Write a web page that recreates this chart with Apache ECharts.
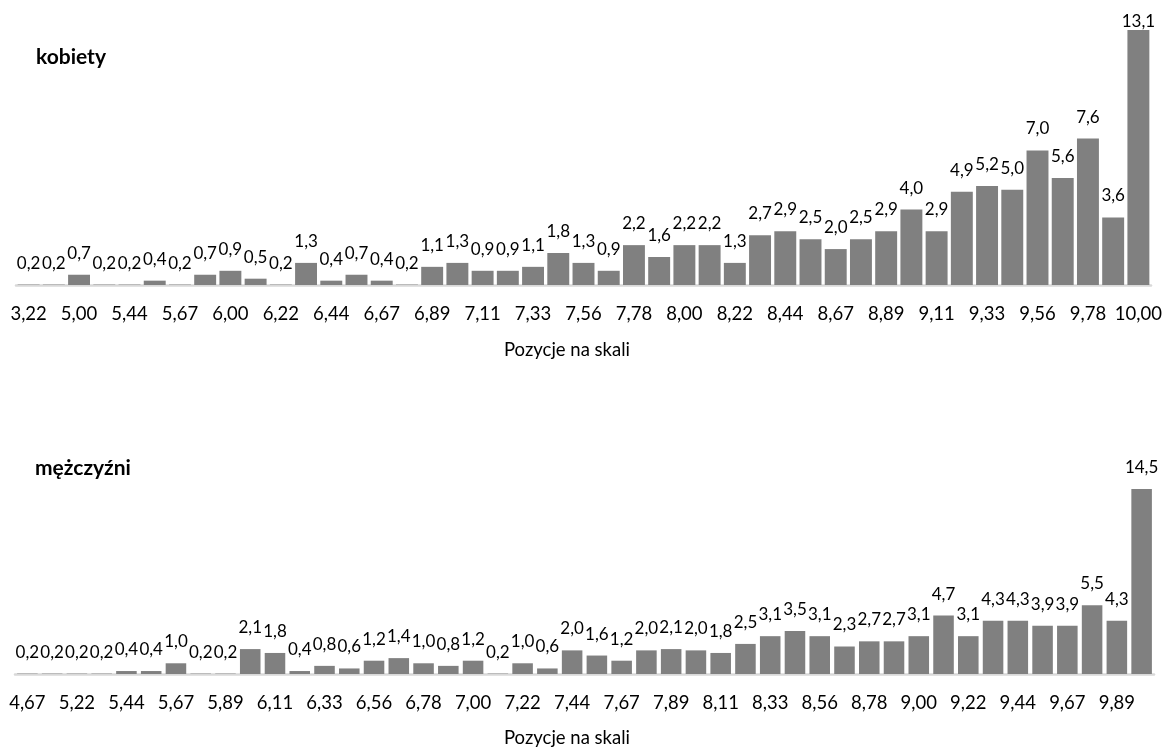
<!DOCTYPE html>
<html><head><meta charset="utf-8">
<script src="https://cdn.jsdelivr.net/npm/echarts@6/dist/echarts.min.js"></script>
<style>html,body{margin:0;padding:0;background:#fff}#c{width:1173px;height:749px}</style>
</head><body><div id="c"></div>
<script>
const womenTitle = 'kobiety';
const menTitle = 'mężczyźni';
const axisTitle = 'Pozycje na skali';
const womenCategories = [3.22,4.67,5.00,5.22,5.44,5.56,5.67,5.89,6.00,6.11,6.22,6.33,6.44,6.56,6.67,6.78,6.89,7.00,7.11,7.22,7.33,7.44,7.56,7.67,7.78,7.89,8.00,8.11,8.22,8.33,8.44,8.56,8.67,8.78,8.89,9.00,9.11,9.22,9.33,9.44,9.56,9.67,9.78,9.89,10.00];
const womenValues = [0.2,0.2,0.7,0.2,0.2,0.4,0.2,0.7,0.9,0.5,0.2,1.3,0.4,0.7,0.4,0.2,1.1,1.3,0.9,0.9,1.1,1.8,1.3,0.9,2.2,1.6,2.2,2.2,1.3,2.7,2.9,2.5,2.0,2.5,2.9,4.0,2.9,4.9,5.2,5.0,7.0,5.6,7.6,3.6,13.1];
const menCategories = [4.67,5.00,5.22,5.33,5.44,5.56,5.67,5.78,5.89,6.00,6.11,6.22,6.33,6.44,6.56,6.67,6.78,6.89,7.00,7.11,7.22,7.33,7.44,7.56,7.67,7.78,7.89,8.00,8.11,8.22,8.33,8.44,8.56,8.67,8.78,8.89,9.00,9.11,9.22,9.33,9.44,9.56,9.67,9.78,9.89,10.00];
const menValues = [0.2,0.2,0.2,0.2,0.4,0.4,1.0,0.2,0.2,2.1,1.8,0.4,0.8,0.6,1.2,1.4,1.0,0.8,1.2,0.2,1.0,0.6,2.0,1.6,1.2,2.0,2.1,2.0,1.8,2.5,3.1,3.5,3.1,2.3,2.7,2.7,3.1,4.7,3.1,4.3,4.3,3.9,3.9,5.5,4.3,14.5];

const FONT = 'Lato, "Open Sans", sans-serif';
const fmtCat = v => Number(v).toFixed(2).replace('.', ',');
const fmtVal = p => Number(p.value).toFixed(1).replace('.', ',');

function barData(vals, lastDist) {
  return vals.map((v, i) => (i === vals.length - 1 && lastDist != null)
    ? { value: v, label: { distance: lastDist } } : v);
}

function xAxis(gridIndex, cats) {
  return {
    type: 'category', gridIndex, data: cats,
    axisLine: { show: true, lineStyle: { color: '#d9d9d9', width: 2.5 } },
    axisTick: { show: false },
    axisLabel: { interval: 1, margin: 20, color: '#000', fontFamily: FONT, fontSize: 18.5, formatter: fmtCat, hideOverlap: false },
    splitLine: { show: false }
  };
}
function yAxis(gridIndex, min, max) {
  return { type: 'value', gridIndex, min, max, show: false, splitLine: { show: false } };
}
function series(idx, vals, width, lastDist) {
  return {
    type: 'bar', xAxisIndex: idx, yAxisIndex: idx, data: barData(vals, lastDist),
    barWidth: width, clip: true, z: 1,
    itemStyle: { color: '#808080' },
    label: { show: true, position: 'top', distance: 13, color: '#000', fontFamily: FONT, fontSize: 17, formatter: fmtVal },
    animation: false
  };
}

const chart = echarts.init(document.getElementById('c'), null, { renderer: 'canvas' });
chart.setOption({
  animation: false,
  backgroundColor: '#fff',
  grid: [
    { left: 16, right: 22, top: 30, height: 255 },
    { left: 15, right: 19, top: 489, height: 185 }
  ],
  xAxis: [xAxis(0, womenCategories), xAxis(1, menCategories)],
  yAxis: [yAxis(0, 0.18, 13.1), yAxis(1, 0.17, 14.5)],
  series: [series(0, womenValues, '87%', 0), series(1, menValues, '83%', 13)],
  graphic: [
    { type: 'text', x: 36, y: 57, style: { text: womenTitle, font: 'bold 21px ' + FONT, fill: '#000', align: 'left', verticalAlign: 'middle' } },
    { type: 'text', x: 35, y: 468, style: { text: menTitle, font: 'bold 21px ' + FONT, fill: '#000', align: 'left', verticalAlign: 'middle' } },
    { type: 'text', x: 567, y: 350, style: { text: axisTitle, font: '18.5px ' + FONT, fill: '#000', align: 'center', verticalAlign: 'middle' } },
    { type: 'text', x: 567, y: 738, style: { text: axisTitle, font: '18.5px ' + FONT, fill: '#000', align: 'center', verticalAlign: 'middle' } }
  ]
});
</script>
</body></html>
